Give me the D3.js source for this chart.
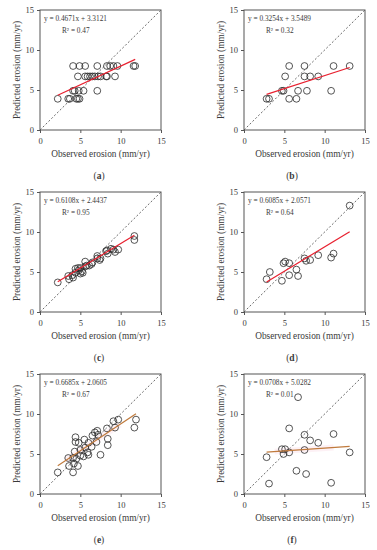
<!DOCTYPE html>
<html lang="en">
<head>
  <meta charset="UTF-8">
  <title>Observed vs predicted erosion</title>
  <script src="https://d3js.org/d3.v7.min.js"></script>
  <style>
    body { margin: 0; background: #fff; }
    svg { width: 377px; height: 550px; display: block; }
    text { font-family: "Liberation Serif", "DejaVu Serif", serif; fill: #3a3a3a; }
  </style>
</head>
<body>
  <svg></svg>

  <script>
    // observed / predicted pairs (mm/yr)
    const pointsA = [
      [4.1, 8.0], [4.9, 8.0], [5.6, 8.0], [7.1, 8.0], [8.3, 8.0], [8.7, 8.0], [9.1, 8.0], [9.6, 8.0], [11.6, 8.0], [11.8, 8.0],
      [4.7, 6.7], [5.6, 6.7], [5.9, 6.7], [6.2, 6.7], [6.5, 6.7], [6.8, 6.7], [7.2, 6.7], [7.5, 6.7], [8.2, 6.7], [8.3, 6.7], [9.3, 6.7],
      [4.1, 4.9], [4.3, 4.9], [4.8, 4.9], [5.4, 4.9], [7.1, 4.9],
      [2.2, 3.9], [3.5, 3.9], [3.7, 3.9], [4.5, 3.9], [4.7, 3.9], [4.9, 3.9]
    ];
    const pointsB = [
      [5.6, 8.0], [7.5, 8.0], [11.1, 8.0], [13.1, 8.0],
      [5.1, 6.7], [7.5, 6.7], [8.2, 6.7], [9.2, 6.7],
      [4.7, 4.9], [4.9, 4.9], [6.7, 4.9], [7.8, 4.9], [10.8, 4.9],
      [2.8, 3.9], [3.1, 3.9], [5.6, 3.9], [6.5, 3.9]
    ];
    const pointsC = [
      [2.2, 3.7], [3.5, 4.5], [3.6, 4.1], [4.0, 4.6], [4.1, 4.3], [4.4, 5.4], [4.4, 4.9], [4.7, 5.5], [4.8, 5.2],
      [5.0, 5.5], [5.0, 4.8], [5.2, 5.1], [5.3, 4.9], [5.6, 6.3], [5.6, 5.7], [5.8, 5.8], [6.1, 5.8], [6.4, 6.0],
      [6.5, 6.2], [7.1, 7.0], [7.1, 6.7], [7.4, 6.5], [7.5, 6.7], [8.2, 7.6], [8.3, 7.7], [8.4, 7.3], [8.8, 7.9],
      [9.1, 7.8], [9.3, 7.5], [9.7, 7.8], [11.7, 9.5], [11.7, 9.0]
    ];
    const pointsD = [
      [2.8, 4.1], [3.2, 5.0], [4.7, 3.9], [4.9, 6.1], [5.1, 6.3], [5.6, 6.1], [5.6, 4.6], [6.5, 5.3], [6.7, 4.5],
      [7.5, 6.7], [7.7, 6.4], [8.2, 6.5], [9.2, 7.1], [10.8, 6.8], [11.1, 7.3], [13.1, 13.3]
    ];
    const pointsE = [
      [2.2, 2.7], [3.5, 4.5], [3.6, 3.5], [4.1, 2.7], [4.2, 3.8], [4.4, 7.1], [4.4, 6.5], [4.8, 6.4], [4.7, 3.5],
      [4.3, 5.3], [4.1, 4.5], [4.5, 4.4], [5.0, 5.5], [5.0, 4.8], [5.4, 4.7], [5.5, 6.8], [5.6, 5.8], [5.9, 5.2],
      [6.0, 6.4], [6.0, 4.9], [6.4, 5.9], [6.5, 7.3], [6.8, 7.7], [7.1, 7.9], [7.2, 7.4], [7.0, 6.5], [7.5, 4.9],
      [8.3, 8.2], [8.4, 6.9], [8.4, 6.1], [9.3, 8.3], [9.1, 9.1], [9.7, 9.3], [11.7, 8.3], [11.9, 9.3]
    ];
    const pointsF = [
      [6.7, 12.1], [5.6, 8.2], [7.5, 7.4], [11.1, 7.5], [8.2, 6.7], [9.2, 6.4], [4.7, 5.6], [5.1, 5.6], [4.9, 5.0],
      [5.6, 5.2], [7.5, 5.5], [2.8, 4.6], [13.1, 5.2], [6.5, 2.9], [7.7, 2.5], [3.1, 1.3], [10.8, 1.4]
    ];

    const panelLabels = [`a`, `b`, `c`, `d`, `e`, `f`];
    const slopes = [0.4671, 0.3254, 0.6108, 0.6085, 0.6685, 0.0708];
    const intercepts = [3.3121, 3.5489, 2.4437, 2.0571, 2.0605, 5.0282];
    const r2Values = [`0.47`, `0.32`, `0.95`, `0.64`, `0.67`, `0.01`];
    const ticks = [0, 5, 10, 15];

    const allPoints = [pointsA, pointsB, pointsC, pointsD, pointsE, pointsF];

    const plotW = 121;
    const plotH = 120;
    const colX = [40, 244];
    const rowY = [10, 192, 374];
    const labelX = [99, 292];

    const svg = d3.select(`svg`);

    allPoints.forEach((pts, i) => {
      const col = i % 2;
      const row = Math.floor(i / 2);
      const g = svg.append(`g`)
        .attr(`transform`, `translate(${colX[col]}, ${rowY[row]})`);

      const x = d3.scaleLinear().domain([0, 15]).range([0, plotW]);
      const y = d3.scaleLinear().domain([0, 15]).range([plotH, 0]);

      // 1:1 line
      g.append(`line`)
        .attr(`x1`, x(0)).attr(`y1`, y(0))
        .attr(`x2`, x(15)).attr(`y2`, y(15))
        .attr(`stroke`, `#444`)
        .attr(`stroke-width`, 0.8)
        .attr(`stroke-dasharray`, `2,2`);

      // regression line
      const xs = d3.extent(pts, d => d[0]);
      const fit = v => slopes[i] * v + intercepts[i];
      const lineColor = i >= 4 ? `#c07a3c` : `#e8202f`;
      if (i >= 4) {
        g.append(`line`)
          .attr(`x1`, x(xs[0] + 1)).attr(`y1`, y(fit(xs[0] + 1)))
          .attr(`x2`, x(xs[1] - 2)).attr(`y2`, y(fit(xs[1] - 2)))
          .attr(`stroke`, `#fde9f0`)
          .attr(`stroke-width`, 6)
          .attr(`opacity`, 0.6);
      }

      g.selectAll(`circle`)
        .data(pts)
        .enter()
        .append(`circle`)
        .attr(`cx`, d => x(d[0]))
        .attr(`cy`, d => y(d[1]))
        .attr(`r`, 3.4)
        .attr(`fill`, `none`)
        .attr(`stroke`, `#2a2a2a`)
        .attr(`stroke-width`, 0.8);

      g.append(`line`)
        .attr(`x1`, x(xs[0])).attr(`y1`, y(fit(xs[0])))
        .attr(`x2`, x(xs[1])).attr(`y2`, y(fit(xs[1])))
        .attr(`stroke`, lineColor)
        .attr(`stroke-width`, 1.2);

      // frame
      g.append(`rect`)
        .attr(`width`, plotW).attr(`height`, plotH)
        .attr(`fill`, `none`)
        .attr(`stroke`, `#555`)
        .attr(`stroke-width`, 1);

      const xAxis = d3.axisBottom(x).tickValues(ticks).tickSize(3).tickSizeOuter(0);
      const yAxis = d3.axisLeft(y).tickValues(ticks).tickSize(3).tickSizeOuter(0);

      const gx = g.append(`g`).attr(`transform`, `translate(0, ${plotH})`).call(xAxis);
      const gy = g.append(`g`).call(yAxis);
      [gx, gy].forEach(a => {
        a.select(`.domain`).remove();
        a.selectAll(`line`).attr(`stroke`, `#555`);
        a.selectAll(`text`)
          .attr(`font-family`, `"Liberation Serif", serif`)
          .attr(`font-size`, 8.5)
          .attr(`fill`, `#444`);
      });
      gx.selectAll(`text`).attr(`dy`, `0.95em`);

      // equation
      g.append(`text`)
        .attr(`x`, 4).attr(`y`, 11)
        .attr(`font-size`, 7.3)
        .text(`y = ${slopes[i].toFixed(4)}x + ${intercepts[i].toFixed(4)}`);
      g.append(`text`)
        .attr(`x`, 22).attr(`y`, 22.5)
        .attr(`font-size`, 7.3)
        .text(`R² = ${r2Values[i]}`);

      // axis titles
      g.append(`text`)
        .attr(`x`, plotW / 2).attr(`y`, plotH + 27)
        .attr(`text-anchor`, `middle`)
        .attr(`font-size`, 9.3)
        .text(`Observed erosion (mm/yr)`);
      g.append(`text`)
        .attr(`transform`, `translate(-20, ${plotH / 2}) rotate(-90)`)
        .attr(`text-anchor`, `middle`)
        .attr(`font-size`, 9.3)
        .text(`Predicted erosion (mm/yr)`);

      // panel letter
      const lab = svg.append(`text`)
        .attr(`x`, labelX[col]).attr(`y`, rowY[row] + 169)
        .attr(`text-anchor`, `middle`)
        .attr(`font-size`, 9.5);
      lab.append(`tspan`).text(`(`);
      lab.append(`tspan`).attr(`font-weight`, `bold`).text(panelLabels[i]);
      lab.append(`tspan`).text(`)`);
    });
  </script>
</body>
</html>
